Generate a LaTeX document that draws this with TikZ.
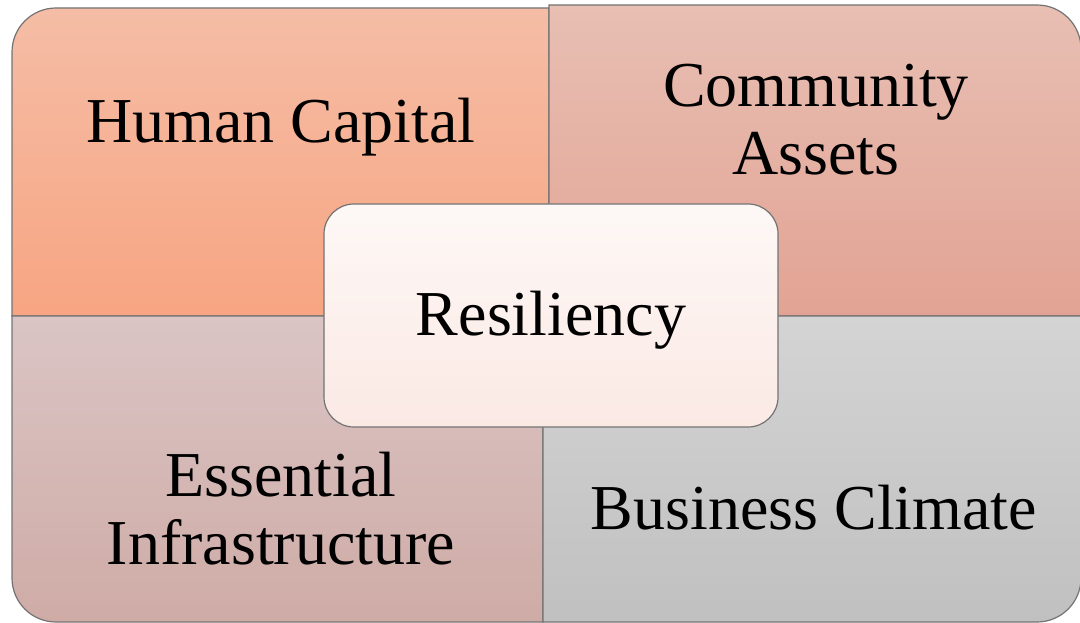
\documentclass[tikz,border=0pt]{standalone}
\usepackage{fontspec}
\setmainfont{Liberation Serif}
\usetikzlibrary{positioning}
\definecolor{humanTop}{RGB}{245,189,166}
\definecolor{humanBot}{RGB}{247,165,130}
\definecolor{commTop}{RGB}{232,191,179}
\definecolor{commBot}{RGB}{226,163,148}
\definecolor{infraTop}{RGB}{218,197,196}
\definecolor{infraBot}{RGB}{207,171,166}
\definecolor{busTop}{RGB}{212,212,212}
\definecolor{busBot}{RGB}{192,192,192}
\definecolor{coreTop}{RGB}{253,248,246}
\definecolor{coreBot}{RGB}{251,233,228}
\tikzset{
    quad/.style={draw=black!55, line width=0.6pt},
    core/.style={draw=black!55, line width=0.6pt, rounded corners=15pt,
        top color=coreTop, bottom color=coreBot,
        minimum width=227pt, minimum height=111.5pt,
        text height=22pt, text depth=2.5pt, inner sep=0pt},
    quadtext/.style={align=center, inner sep=0pt,
        font=\fontsize{32}{34}\selectfont}
}
\begin{document}
\begin{tikzpicture}[x=0.5pt, y=0.5pt]
    \useasboundingbox (0,0) rectangle (1080,622);
    % four quadrants
    \path[quad, top color=humanTop, bottom color=humanBot]
        (12,306) -- (12,570) arc[start angle=180, end angle=90, radius=22pt]
        -- (549,614) -- (549,306) -- cycle;
    \path[quad, top color=commTop, bottom color=commBot]
        (549,306) -- (549,617) -- (1037,617)
        arc[start angle=90, end angle=0, radius=22pt] -- (1081,306) -- cycle;
    \path[quad, top color=infraTop, bottom color=infraBot]
        (12,306) -- (12,44) arc[start angle=180, end angle=270, radius=22pt]
        -- (543,0) -- (543,306) -- cycle;
    \path[quad, top color=busTop, bottom color=busBot]
        (543,306) -- (543,0) -- (1037,0)
        arc[start angle=270, end angle=360, radius=22pt] -- (1081,306) -- cycle;

    \node[quadtext, anchor=base] (human) at (281,479) {Human Capital};
    \node[quadtext] (comm) at (816,502) {Community\\Assets};
    \node[quadtext] (infra) at (281,113) {Essential\\Infrastructure};
    \node[quadtext, anchor=base] (bus) at (814,93) {Business Climate};

    % centre
    \node[core, font=\fontsize{32}{34}\selectfont] (res) at (551,306.5) {Resiliency};
\end{tikzpicture}
\end{document}
